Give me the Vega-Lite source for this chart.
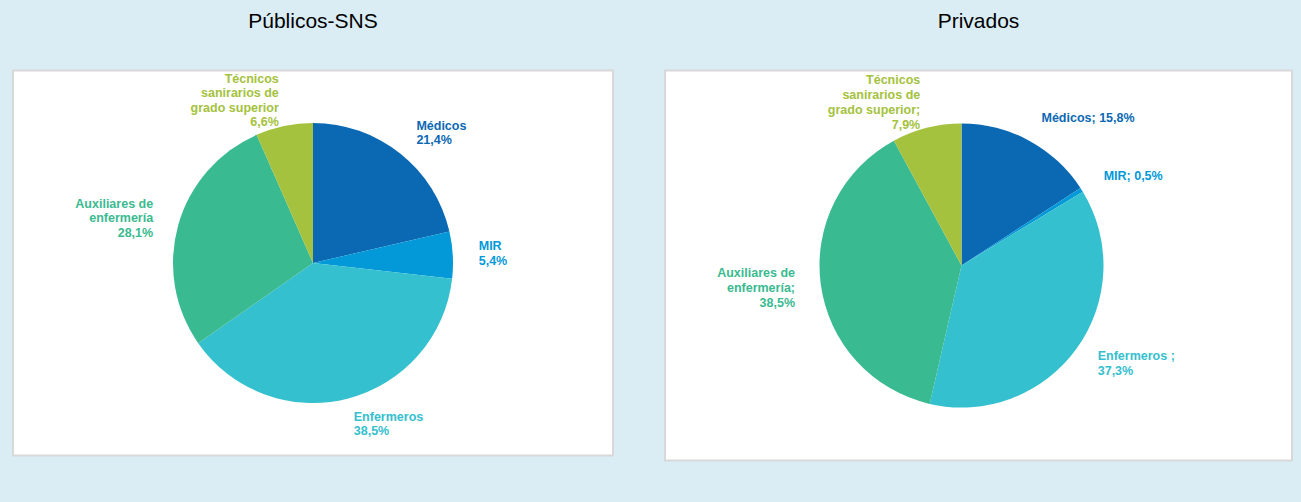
{
  "$schema": "https://vega.github.io/schema/vega-lite/v6.json",
  "background": "#DAEDF5",
  "padding": {"left": 12, "top": 9.5, "right": 11, "bottom": 41},
  "datasets": {
    "publicos": [
      {"orden": 1, "categoria": "Médicos", "valor": 21.4, "etiqueta": "Médicos\n21,4%"},
      {"orden": 2, "categoria": "MIR", "valor": 5.4, "etiqueta": "MIR\n5,4%"},
      {"orden": 3, "categoria": "Enfermeros", "valor": 38.5, "etiqueta": "Enfermeros\n38,5%"},
      {"orden": 4, "categoria": "Auxiliares de enfermería", "valor": 28.1, "etiqueta": "Auxiliares de\nenfermería\n28,1%"},
      {"orden": 5, "categoria": "Técnicos sanitarios de grado superior", "valor": 6.6, "etiqueta": "Técnicos\nsanirarios de\ngrado superior\n6,6%"}
    ],
    "privados": [
      {"orden": 1, "categoria": "Médicos", "valor": 15.8, "etiqueta": "Médicos; 15,8%"},
      {"orden": 2, "categoria": "MIR", "valor": 0.5, "etiqueta": "MIR; 0,5%"},
      {"orden": 3, "categoria": "Enfermeros", "valor": 37.3, "etiqueta": "Enfermeros ;\n37,3%"},
      {"orden": 4, "categoria": "Auxiliares de enfermería", "valor": 38.5, "etiqueta": "Auxiliares de\nenfermería;\n38,5%"},
      {"orden": 5, "categoria": "Técnicos sanitarios de grado superior", "valor": 7.9, "etiqueta": "Técnicos\nsanirarios de\ngrado superior;\n7,9%"}
    ]
  },
  "spacing": 50,
  "hconcat": [
    {
      "title": {"text": "Públicos-SNS"},
      "width": 600,
      "height": 385,
      "view": {"fill": "white", "stroke": "#D8D8D8", "strokeWidth": 2},
      "data": {"name": "publicos"},
      "encoding": {
        "theta": {"field": "valor", "type": "quantitative", "stack": true},
        "order": {"field": "orden", "type": "quantitative"},
        "color": {
          "field": "categoria",
          "type": "nominal",
          "legend": null,
          "scale": {
            "domain": ["Médicos", "MIR", "Enfermeros", "Auxiliares de enfermería", "Técnicos sanitarios de grado superior"],
            "range": ["#0B69B4", "#0399D8", "#34C0CE", "#3ABA90", "#A4C23D"]
          }
        }
      },
      "layer": [
        {"mark": {"type": "arc", "outerRadius": 140}},
        {
          "mark": {"type": "text", "radius": 166, "clip": true, "font": "Liberation Sans", "fontWeight": "bold", "fontSize": 12.5, "lineHeight": 14.5, "lineBreak": "\n", "align": {"expr": "datum.orden <= 3 ? 'left' : 'right'"}, "baseline": "middle", "dy": {"expr": "-(length(split(datum.etiqueta, '\\n')) - 1) * 7.25"}},
          "encoding": {"text": {"field": "etiqueta", "type": "nominal"}}
        }
      ]
    },
    {
      "title": {"text": "Privados"},
      "width": 627,
      "height": 390,
      "view": {"fill": "white", "stroke": "#D8D8D8", "strokeWidth": 2},
      "data": {"name": "privados"},
      "encoding": {
        "theta": {"field": "valor", "type": "quantitative", "stack": true},
        "order": {"field": "orden", "type": "quantitative"},
        "color": {
          "field": "categoria",
          "type": "nominal",
          "legend": null,
          "scale": {
            "domain": ["Médicos", "MIR", "Enfermeros", "Auxiliares de enfermería", "Técnicos sanitarios de grado superior"],
            "range": ["#0B69B4", "#0399D8", "#34C0CE", "#3ABA90", "#A4C23D"]
          }
        }
      },
      "layer": [
        {"mark": {"type": "arc", "outerRadius": 142, "xOffset": -17}},
        {
          "mark": {"type": "text", "radius": 168, "clip": true, "xOffset": -17, "font": "Liberation Sans", "fontWeight": "bold", "fontSize": 12.5, "lineHeight": 15, "lineBreak": "\n", "align": {"expr": "datum.orden <= 3 ? 'left' : 'right'"}, "baseline": "middle", "dy": {"expr": "-(length(split(datum.etiqueta, '\\n')) - 1) * 7.5"}},
          "encoding": {"text": {"field": "etiqueta", "type": "nominal"}}
        }
      ]
    }
  ],
  "config": {
    "title": {"font": "Liberation Sans", "fontSize": 21, "fontWeight": "normal", "color": "#000000", "anchor": "middle", "offset": 38.5, "frame": "group"}
  }
}
